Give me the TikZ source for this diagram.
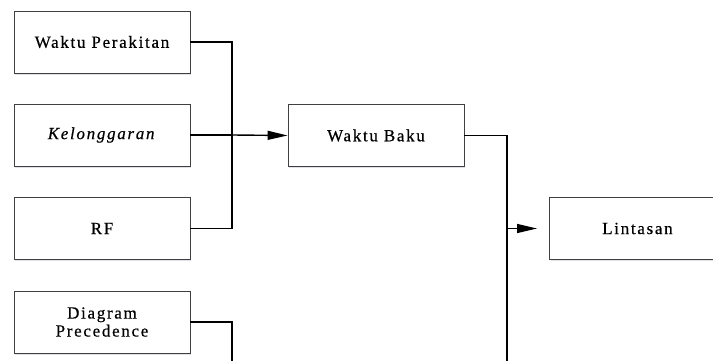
\documentclass[tikz,border=0pt]{standalone}
\usepackage{fontspec}
\setmainfont[LetterSpace=10,FakeBold=0.5]{Liberation Serif}
\usetikzlibrary{arrows.meta,shadows}
\tikzset{
  blockbox/.style={draw=black!75, line width=0.9pt, fill=white,
    minimum width=176pt, minimum height=62pt, inner sep=0pt,
    align=center, font=\fontsize{17}{18}\selectfont,
    drop shadow={shadow xshift=1.2pt, shadow yshift=-1.8pt, fill=blue!25!black!12, opacity=1}},
  link/.style={draw=black, line width=1.4pt},
  tip/.style={-{Triangle[length=20pt,width=9pt]}}
}
\begin{document}
\begin{tikzpicture}[x=1pt,y=-1pt]
\useasboundingbox (0,0) rectangle (713,361);
\clip (0,0) rectangle (713,361);
% input blocks
\node[blockbox] (wp) at (102,42) {Waktu Perakitan};
\node[blockbox] (kel) at (102,135) {\textit{Kelonggaran}};
\node[blockbox] (rf) at (102,228.5) {RF};
\node[blockbox] (dp) at (102,322) {Diagram\\Precedence};
% result blocks
\node[blockbox] (wb) at (376,135.5) {Waktu Baku};
\node[blockbox, anchor=west] (lt) at (549,228.5) {Lintasan};
% junctions and open ends
\coordinate (busA) at (232,135);
\coordinate (busAend) at (232,361);
\coordinate (busB) at (507,135.5);
\coordinate (busBend) at (507,361);
\coordinate (ltin) at (537,228.5);
% connectors
\draw[link] (wp.east) -| (busA) |- (rf.east);
\draw[link] (kel.east) -- (busA);
\draw[link,tip] (busA) -- (wb.west);
\draw[link] (dp.east) -| (busAend);
\draw[link] (wb.east) -- (busB) -- (busBend);
\draw[link,tip] (busB |- lt.west) -- (ltin);
\end{tikzpicture}
\end{document}
